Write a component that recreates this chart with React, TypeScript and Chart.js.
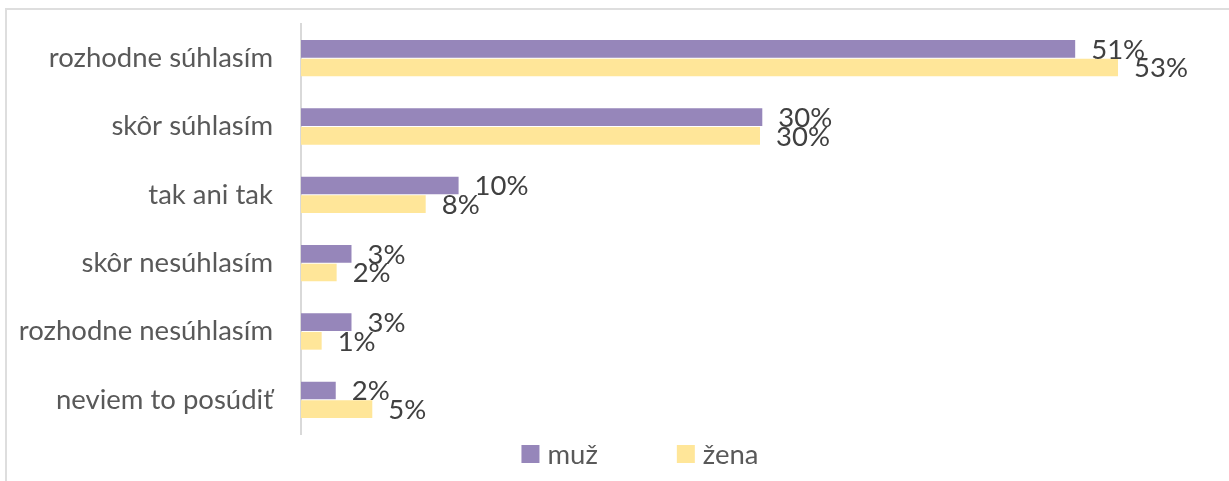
import React, { useEffect, useRef } from "react";
import { Chart, registerables } from "chart.js";

Chart.register(...registerables);

const categories = [
  "rozhodne súhlasím",
  "skôr súhlasím",
  "tak ani tak",
  "skôr nesúhlasím",
  "rozhodne nesúhlasím",
  "neviem to posúdiť",
];
const seriesNames = ["muž", "žena"];
const muzValues = [50.6, 30.15, 10.3, 3.3, 3.3, 2.27];
const zenaValues = [53.4, 30.0, 8.15, 2.33, 1.35, 4.66];
const xMin = 0;
const xMax = 60;

const PURPLE = "#9686ba";
const YELLOW = "#ffe699";
const FONT = "Lato";
const FONT_SIZE = 27.5;

const CANVAS_W = 1266;
const CANVAS_H = 490;

const dataLabelPlugin = {
  id: "dataLabels",
  afterDatasetsDraw(chart: any) {
    const ctx = chart.ctx;
    ctx.save();
    ctx.font = `${FONT_SIZE}px ${FONT}`;
    ctx.fillStyle = "#404040";
    ctx.textAlign = "left";
    ctx.textBaseline = "middle";
    chart.data.datasets.forEach((ds: any, di: number) => {
      const meta = chart.getDatasetMeta(di);
      meta.data.forEach((bar: any, i: number) => {
        const v = ds.data[i] as number;
        ctx.fillText(`${Math.round(v)}%`, bar.x + 16, bar.y + 1);
      });
    });
    ctx.restore();
  },
};

const legendPlugin = {
  id: "customLegend",
  afterDraw(chart: any) {
    const ctx = chart.ctx;
    ctx.save();
    ctx.font = `${FONT_SIZE}px ${FONT}`;
    ctx.textBaseline = "middle";
    ctx.textAlign = "left";
    const box = 18;
    const gap = 8;
    const spacing = 79;
    const items = chart.data.datasets.map((d: any) => ({
      text: d.label as string,
      color: d.backgroundColor as string,
    }));
    const widths = items.map(
      (it: any) => box + gap + ctx.measureText(it.text).width
    );
    const total =
      widths.reduce((a: number, b: number) => a + b, 0) +
      spacing * (items.length - 1);
    let x = chart.width / 2 - total / 2;
    const y = chart.chartArea.bottom + 20;
    items.forEach((it: any, i: number) => {
      ctx.fillStyle = it.color;
      ctx.fillRect(x, y - box / 2, box, box);
      ctx.fillStyle = "#595959";
      ctx.fillText(it.text, x + box + gap, y + 1);
      x += widths[i] + spacing;
    });
    ctx.restore();
  },
};

export default function App() {
  const canvasRef = useRef<HTMLCanvasElement | null>(null);

  useEffect(() => {
    document.body.style.margin = "0";
    const canvas = canvasRef.current;
    if (!canvas) return;
    const chart = new Chart(canvas, {
      type: "bar",
      data: {
        labels: categories,
        datasets: [
          {
            label: seriesNames[0],
            data: muzValues,
            backgroundColor: PURPLE,
            barPercentage: 0.95,
            categoryPercentage: 0.545,
          },
          {
            label: seriesNames[1],
            data: zenaValues,
            backgroundColor: YELLOW,
            barPercentage: 0.95,
            categoryPercentage: 0.545,
          },
        ],
      },
      options: {
        indexAxis: "y",
        animation: false,
        responsive: false,
        maintainAspectRatio: false,
        layout: {
          padding: { top: 14, right: 54, left: 0, bottom: CANVAS_H - 424 },
        },
        plugins: {
          legend: { display: false },
          tooltip: { enabled: false },
          title: { display: false },
        },
        scales: {
          x: {
            display: false,
            min: xMin,
            max: xMax,
          },
          y: {
            grid: { display: false, drawTicks: false },
            border: { display: true, color: "#d9d9d9", width: 2 },
            ticks: {
              padding: 28,
              color: "#595959",
              font: { family: FONT, size: FONT_SIZE },
            },
            afterFit(scale: any) {
              scale.width = 294;
              scale.paddingTop = 0;
              scale.paddingBottom = 0;
            },
          },
        },
      },
      plugins: [dataLabelPlugin, legendPlugin],
    });
    return () => chart.destroy();
  }, []);

  return (
    <div
      style={{
        position: "relative",
        width: 1229,
        height: 481,
        overflow: "hidden",
        background: "#ffffff",
      }}
    >
      <div
        style={{
          position: "absolute",
          left: 5,
          top: 8,
          border: "2px solid #dedede",
          width: CANVAS_W,
          height: CANVAS_H,
          background: "#ffffff",
        }}
      >
        <canvas
          ref={canvasRef}
          width={CANVAS_W}
          height={CANVAS_H}
          style={{ display: "block", width: CANVAS_W, height: CANVAS_H }}
        />
      </div>
    </div>
  );
}
